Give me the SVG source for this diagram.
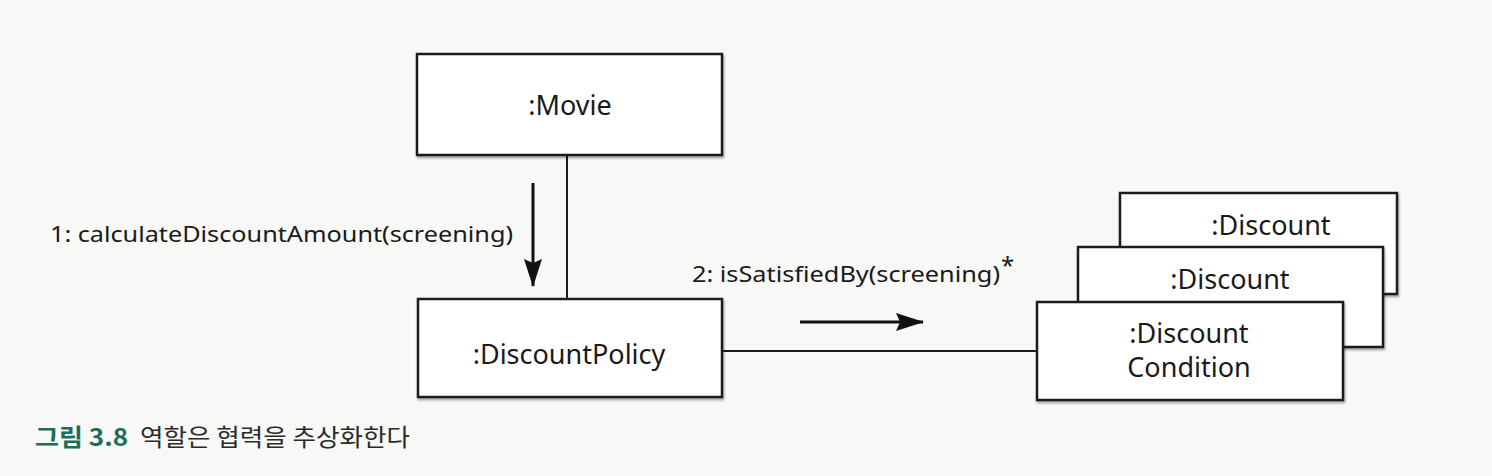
<svg xmlns="http://www.w3.org/2000/svg" width="1492" height="476" viewBox="0 0 1492 476">
  <defs>
    <marker id="ahBig" markerWidth="28" markerHeight="18" refX="27" refY="9" orient="auto" markerUnits="userSpaceOnUse">
      <path d="M0,0 L28,9 L0,18 L4,9 Z" fill="#111"/>
    </marker>
    <filter id="sh" x="-5%" y="-5%" width="110%" height="115%">
      <feDropShadow dx="1" dy="2" stdDeviation="1.2" flood-color="#000" flood-opacity="0.35"/>
    </filter>
  </defs>
  <style>
    .box { fill: #ffffff; stroke: #1c1c1c; stroke-width: 2.5; }
    .node-text { font-family: "Noto Sans", "Liberation Sans", sans-serif; font-size: 27px; fill: #1a1a1a; }
    .label { font-family: "Noto Sans", "Liberation Sans", sans-serif; font-size: 22px; fill: #1a1a1a; }
    .conn { stroke: #1c1c1c; stroke-width: 2; fill: none; }
    .msg { stroke: #111; stroke-width: 3; fill: none; }
    .cap-bold { font-family: "Noto Sans CJK KR", "Noto Sans", sans-serif; font-size: 24px; font-weight: bold; fill: #1f6b5c; }
    .cap { font-family: "Noto Sans CJK KR", "Noto Sans", sans-serif; font-size: 23.5px; fill: #2a2a2a; }
  </style>
  <rect x="0" y="0" width="1492" height="476" fill="#f8f8f6"/>

  <g id="connectors">
    <line class="conn" x1="567" y1="155" x2="567" y2="299"/>
    <line class="conn" x1="722" y1="351" x2="1037" y2="351"/>
    <line class="msg" x1="533" y1="183" x2="533" y2="286" marker-end="url(#ahBig)"/>
    <line class="msg" x1="800" y1="322" x2="923" y2="322" marker-end="url(#ahBig)"/>
    <text class="label" x="50" y="242" textLength="463" lengthAdjust="spacingAndGlyphs">1: calculateDiscountAmount(screening)</text>
    <text class="label" x="692" y="282" textLength="308" lengthAdjust="spacingAndGlyphs">2: isSatisfiedBy(screening)</text>
    <text class="label" x="1001" y="274" style="font-size:24px">*</text>
  </g>

  <g id="movie">
    <rect class="box" x="417" y="54" width="305" height="101" filter="url(#sh)"/>
    <text class="node-text" x="570" y="115" text-anchor="middle">:Movie</text>
  </g>

  <g id="discount-policy">
    <rect class="box" x="418" y="299" width="304" height="98" filter="url(#sh)"/>
    <text class="node-text" x="569" y="364" text-anchor="middle">:DiscountPolicy</text>
  </g>

  <g id="discount-back">
    <rect class="box" x="1120" y="193" width="277" height="101" filter="url(#sh)"/>
    <text class="node-text" x="1271" y="235" text-anchor="middle">:Discount</text>
  </g>

  <g id="discount-middle">
    <rect class="box" x="1078" y="247" width="305" height="100" filter="url(#sh)"/>
    <text class="node-text" x="1230" y="289" text-anchor="middle">:Discount</text>
  </g>

  <g id="discount-condition">
    <rect class="box" x="1037" y="302" width="306" height="98" filter="url(#sh)"/>
    <text class="node-text" x="1189" y="343" text-anchor="middle">:Discount</text>
    <text class="node-text" x="1189" y="377" text-anchor="middle">Condition</text>
  </g>

  <g id="caption">
    <text class="cap-bold" x="35" y="446" textLength="93" lengthAdjust="spacingAndGlyphs">그림 3.8</text>
    <text class="cap" x="140" y="446" textLength="270" lengthAdjust="spacingAndGlyphs">역할은 협력을 추상화한다</text>
  </g>
</svg>
